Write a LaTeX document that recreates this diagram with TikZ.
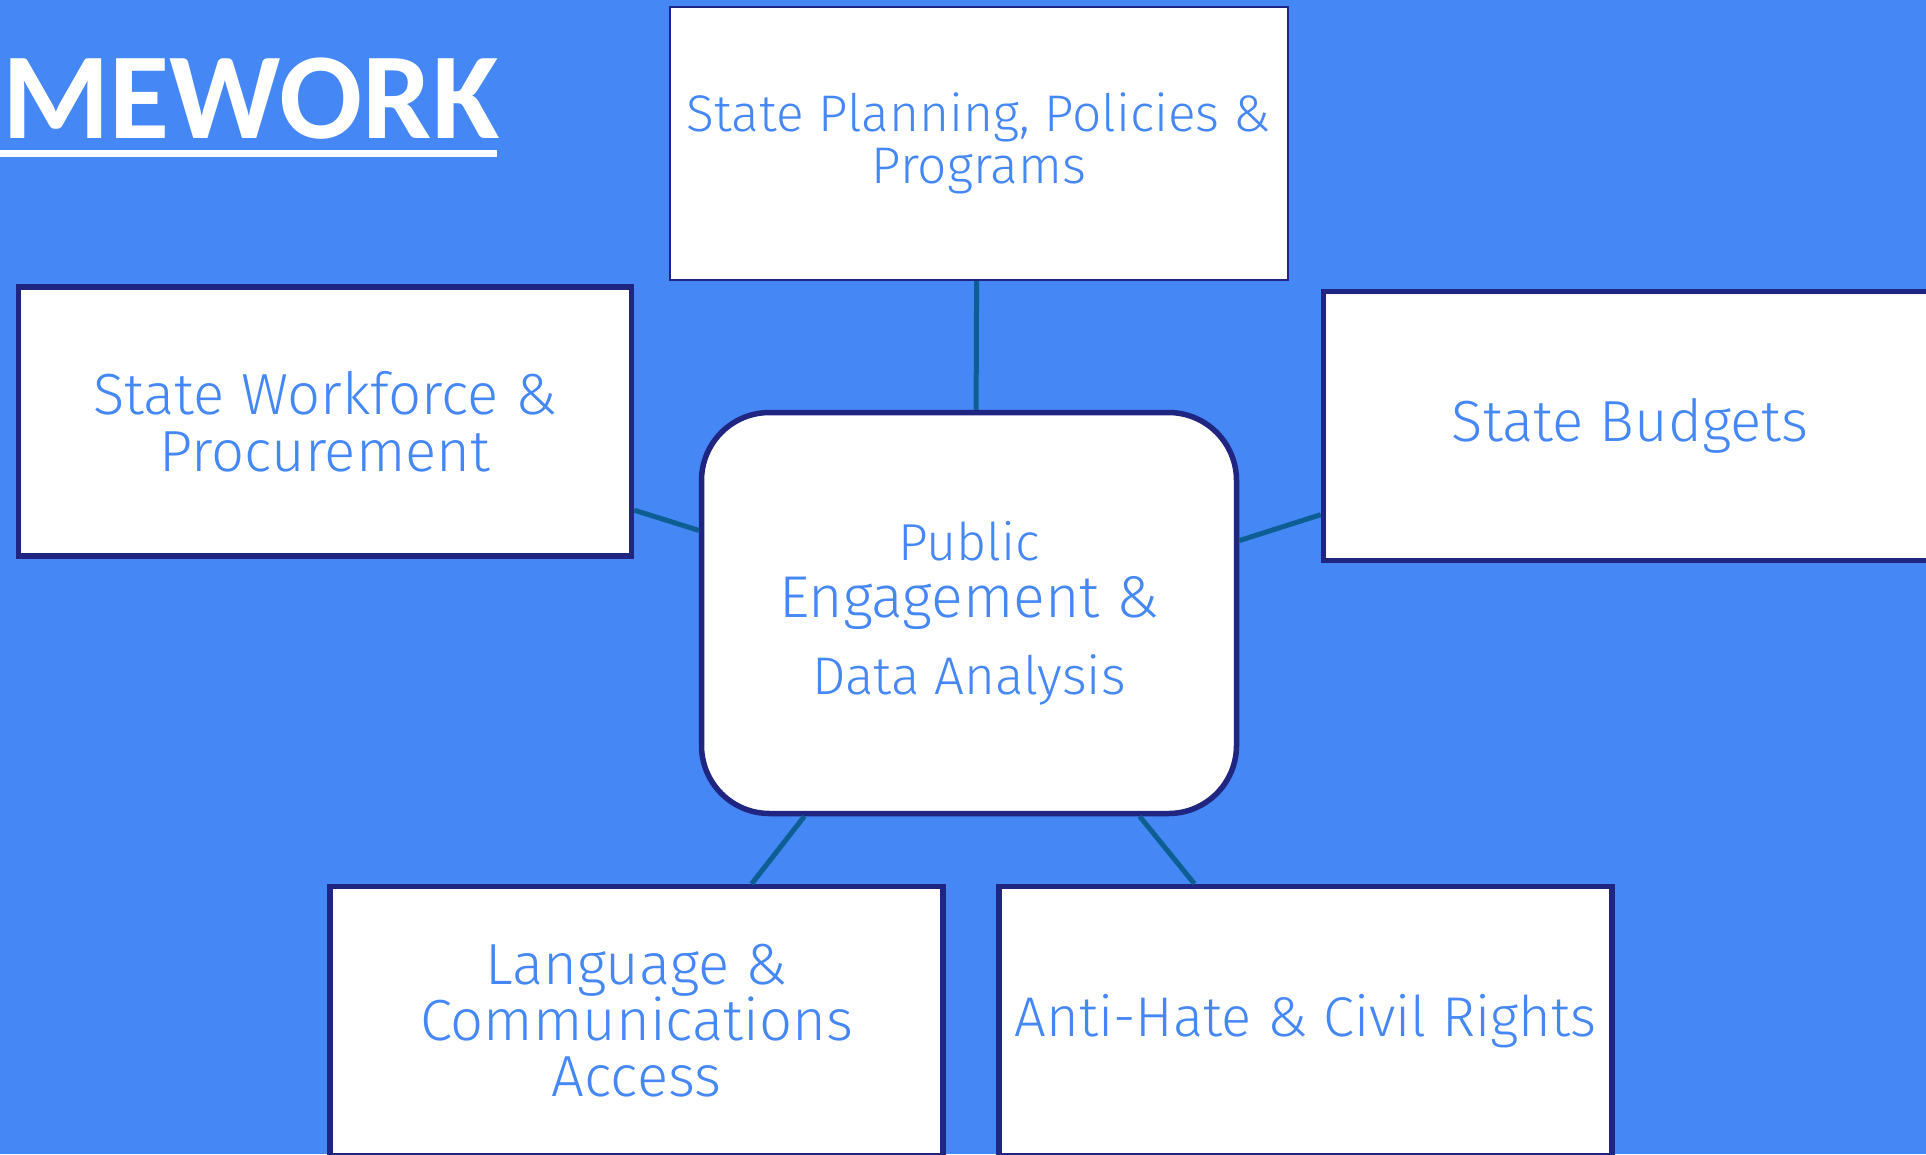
\documentclass[tikz,border=0pt]{standalone}
\usepackage{fontspec}
\setmainfont{Carlito}
\newfontfamily\thinfont{Fira Sans Light}
\definecolor{bg}{HTML}{4487F5}
\definecolor{txt}{HTML}{4487F5}
\definecolor{navy}{HTML}{1F2580}
\definecolor{link}{HTML}{0D5E93}
\begin{document}
\begin{tikzpicture}[x=1pt,y=-1pt,
  box/.style={draw=navy, fill=white, line width=5.5pt, rectangle, minimum width=613, minimum height=269, align=center, text=txt, inner sep=0pt,
    font={\thinfont\fontsize{58}{57}\selectfont}},
  thinbox/.style={box, line width=2.2pt, minimum width=618, minimum height=273},
  hub/.style={box, rounded corners=68pt, minimum width=535, minimum height=401},
  conn/.style={draw=link, line width=5pt}]
\useasboundingbox (0,0) rectangle (1926,1154);
\fill[bg] (0,0) rectangle (1926,1154);
% title
\node[anchor=base west, inner sep=0pt, text=white, font={\bfseries\fontsize{123}{123}\selectfont}] (title) at (2,138) {MEWORK};
\fill[white] (0,150) rectangle (497,157);
% boxes
\node[thinbox, font={\thinfont\fontsize{51.5}{52}\selectfont}] (top) at (979,143.5) {State Planning, Policies \&\\Programs};
\node[box] (wf) at (325,421.5) {State Workforce \&\\Procurement};
\node[box] (bud) at (1630,426) {State Budgets};
\node[hub, font={\thinfont\fontsize{59}{57}\selectfont}] (hub) at (969,613) {{\fontsize{52}{52}\selectfont Public}\\Engagement \&\\[20pt]{\fontsize{53}{53}\selectfont Data Analysis}};
\node[box, font={\thinfont\fontsize{58}{56}\selectfont}] (lang) at (636.5,1021) {Language \&\\Communications\\Access};
\node[box, font={\thinfont\fontsize{56}{56}\selectfont}] (civ) at (1305.5,1021) {Anti-Hate \& Civil Rights};
% connectors
\draw[conn] (top.-91.6) -- (hub.88.9);
\draw[conn] (wf.-16.5) -- (hub.163.3);
\draw[conn] (hub.15.8) -- (bud.-164.2);
\draw[conn] (hub.-129.3) -- (lang.50.9);
\draw[conn] (hub.-50.2) -- (civ.129.4);
\end{tikzpicture}
\end{document}
